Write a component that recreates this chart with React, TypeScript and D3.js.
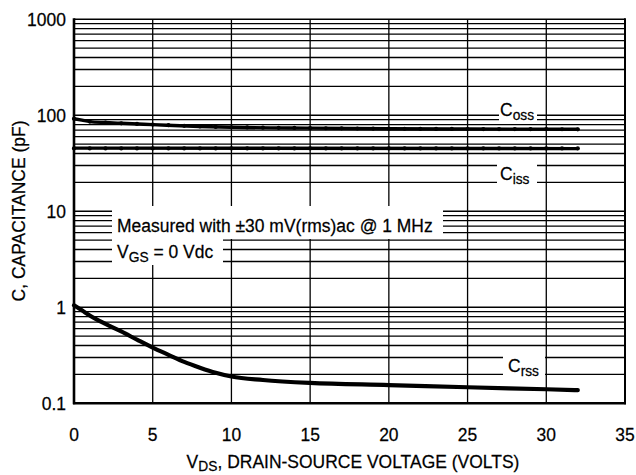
import React from "react";
import * as d3 from "d3";

const xTicks = [0, 5, 10, 15, 20, 25, 30, 35];
const yTicks = [0.1, 1, 10, 100, 1000];
const yTickLabels = ["0.1", "1", "10", "100", "1000"];

const cossV = [0, 0.5, 1, 2, 3, 5, 8, 10, 15, 20, 25, 32];
const cossC = [92, 89, 86, 84, 82.5, 80, 76.5, 75, 73.5, 72.5, 72, 71.5];
const cissV = [0, 32];
const cissC = [45.5, 45];
const crssV = [0, 0.5, 1, 2, 3, 4, 5, 6, 7, 8, 9, 10, 12, 15, 20, 25, 30, 32];
const crssC = [1.05, 0.93, 0.82, 0.67, 0.56, 0.46, 0.38, 0.32, 0.27, 0.235, 0.208, 0.19, 0.175, 0.163, 0.155, 0.147, 0.14, 0.137];

const FONT = "'Liberation Sans', Arial, sans-serif";
const SX = 0.92;

function T(props: { x: number; y: number; anchor?: string; rotate?: number; children: React.ReactNode }) {
  const { x, y, anchor, rotate, children } = props;
  return (
    <g transform={`translate(${x},${y})${rotate ? ` rotate(${rotate})` : ""} scale(${SX},1)`}>
      <text x={0} y={0} fontSize={19} textAnchor={anchor || "start"} fill="#000" stroke="#000" strokeWidth={0.25}>{children}</text>
    </g>
  );
}

export default function App() {
  const W = 636, H = 475;
  const L = 74, R = 625, Tp = 19.3, B = 403.3;
  const x = d3.scaleLinear().domain([0, 35]).range([L, R]);
  const y = d3.scaleLog().domain([0.1, 1000]).range([B, Tp]);

  const minor: number[] = [];
  for (let e = -1; e < 3; e++) for (let k = 2; k <= 9; k++) minor.push(k * Math.pow(10, e));

  const line = d3.line<[number, number]>().x(d => x(d[0])).y(d => y(d[1])).curve(d3.curveMonotoneX);
  const mk = (vs: number[], cs: number[]) => vs.map((v, i) => [v, cs[i]] as [number, number]);
  const coss = mk(cossV, cossC);
  const ciss = mk(cissV, cissC);
  const crss = mk(crssV, crssC);

  const boxes = [
    { x0: 499, x1: 537, y0: 95, y1: 123 },
    { x0: 497, x1: 537, y0: 158, y1: 188 },
    { x0: 112, x1: 443, y0: 206, y1: 239 },
    { x0: 112, x1: 223, y0: 239, y1: 265 },
    { x0: 503, x1: 545, y0: 350, y1: 382 },
  ];

  const dotsV = d3.range(0, 33, 1);
  const cossInterp = d3.scaleLinear().domain(cossV).range(cossC);

  return (
    <svg width={W} height={H} style={{ position: "absolute", left: 0, top: 0, background: "#fff" }} fontFamily={FONT}>
      <rect x={0} y={0} width={W} height={H} fill="#fff" />
      {minor.map((v, i) => (
        <line key={"m" + i} x1={L} x2={R} y1={y(v)} y2={y(v)} stroke="#000" strokeWidth={1.3} />
      ))}
      {yTicks.map((v, i) => (
        <line key={"M" + i} x1={L} x2={R} y1={y(v)} y2={y(v)} stroke="#000" strokeWidth={1.6} />
      ))}
      {xTicks.slice(1, -1).map((v, i) => (
        <line key={"v" + i} x1={x(v)} x2={x(v)} y1={Tp} y2={B} stroke="#000" strokeWidth={1.3} />
      ))}
      {boxes.map((b, i) => (
        <rect key={"b" + i} x={b.x0} y={b.y0} width={b.x1 - b.x0} height={b.y1 - b.y0} fill="#fff" />
      ))}
      <line x1={L} x2={L} y1={Tp - 1} y2={B + 1} stroke="#000" strokeWidth={2.6} />
      <line x1={R} x2={R} y1={Tp - 1} y2={B + 1} stroke="#000" strokeWidth={2} />
      <line x1={L - 1} x2={R + 1} y1={B} y2={B} stroke="#000" strokeWidth={2.6} />

      <path d={line(coss) || ""} fill="none" stroke="#000" strokeWidth={3.4} strokeLinecap="round" />
      <path d={line(ciss) || ""} fill="none" stroke="#000" strokeWidth={3.4} strokeLinecap="round" />
      <path d={line(crss) || ""} fill="none" stroke="#000" strokeWidth={4.2} strokeLinecap="round" />
      {dotsV.map(v => (
        <circle key={"dc" + v} cx={x(v)} cy={y(cossInterp(v))} r={2.1} fill="#000" />
      ))}
      {dotsV.map(v => (
        <circle key={"di" + v} cx={x(v)} cy={y(45.2)} r={2.1} fill="#000" />
      ))}

      <T x={500} y={116}>C<tspan fontSize={15} dy={4}>oss</tspan></T>
      <T x={500} y={180}>C<tspan fontSize={15} dy={4}>iss</tspan></T>
      <T x={508} y={372}>C<tspan fontSize={15} dy={4}>rss</tspan></T>
      <T x={117} y={232}>Measured with ±30 mV(rms)ac @ 1 MHz</T>
      <T x={117} y={258}>V<tspan fontSize={15} dy={4}>GS</tspan><tspan dy={-4}> = 0 Vdc</tspan></T>

      {xTicks.map((v, i) => (
        <T key={"xt" + i} x={x(v)} y={441} anchor="middle">{v}</T>
      ))}
      {yTicks.map((v, i) => (
        <T key={"yt" + i} x={66} y={y(v) + 7} anchor="end">{yTickLabels[i]}</T>
      ))}
      <T x={25} y={211} rotate={-90} anchor="middle">C, CAPACITANCE (pF)</T>
      <T x={353} y={468} anchor="middle">V<tspan fontSize={15} dy={3}>DS</tspan><tspan dy={-3}>, DRAIN-SOURCE VOLTAGE (VOLTS)</tspan></T>
    </svg>
  );
}
